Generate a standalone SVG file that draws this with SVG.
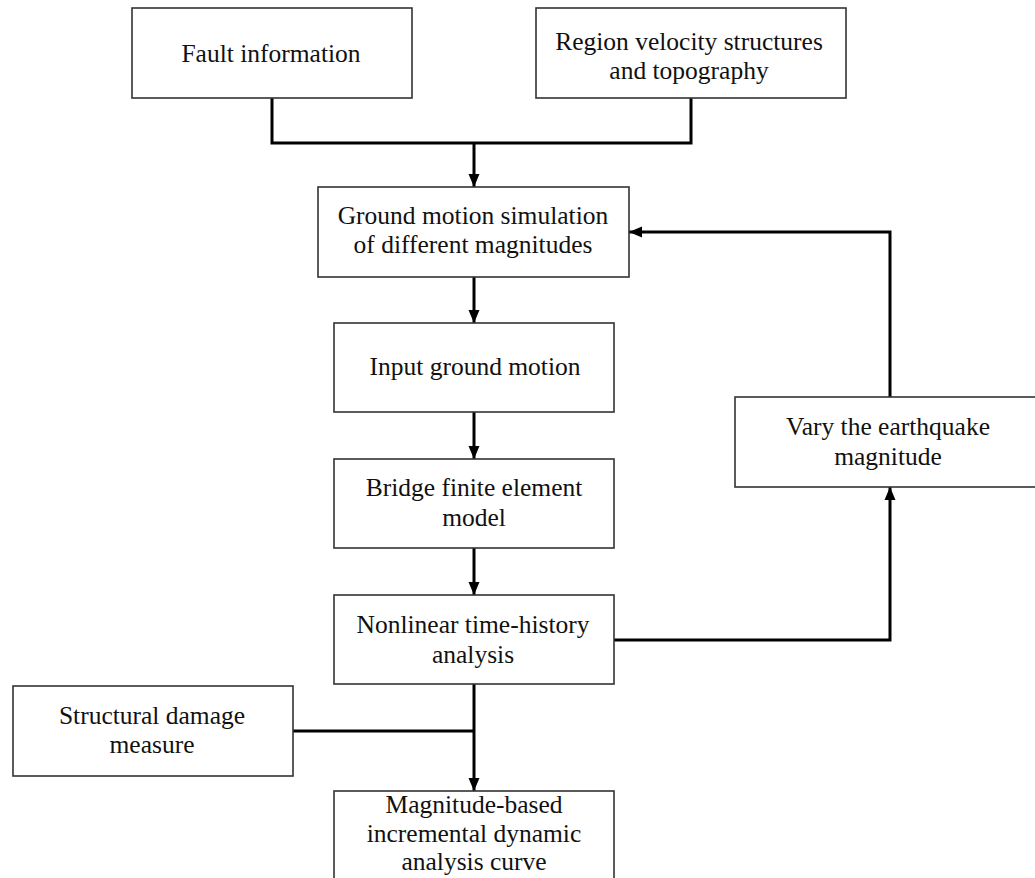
<svg xmlns="http://www.w3.org/2000/svg" width="1035" height="878" viewBox="0 0 1035 878">
<style>
.box{fill:#fff;stroke:#333;stroke-width:1.6}
.t{font-family:"Liberation Serif","Times New Roman",serif;font-size:25.5px;fill:#111;text-anchor:middle}
.c{fill:none;stroke:#000;stroke-width:3}
</style>
<defs>
<marker id="arr" markerUnits="userSpaceOnUse" markerWidth="14" markerHeight="14" viewBox="0 0 14 14" refX="13" refY="7" orient="auto">
<path d="M0,1.5 L13,7 L0,12.5 Z" fill="#000"/>
</marker>
</defs>
<rect width="1035" height="878" fill="#fff"/>
<g id="connectors">
<path class="c" d="M272,98 V143 H691 V98"/>
<path class="c" d="M474,143 V187" marker-end="url(#arr)"/>
<path class="c" d="M474,277 V323" marker-end="url(#arr)"/>
<path class="c" d="M474,412 V459" marker-end="url(#arr)"/>
<path class="c" d="M474,548 V595" marker-end="url(#arr)"/>
<path class="c" d="M474,684 V791" marker-end="url(#arr)"/>
<path class="c" d="M293,731 H474"/>
<path class="c" d="M614,640 H890 V487" marker-end="url(#arr)"/>
<path class="c" d="M890,397 V232 H629" marker-end="url(#arr)"/>
</g>
<g id="fault">
<rect class="box" x="132" y="8" width="280" height="90"/>
<text class="t" x="271" y="62">Fault information</text>
</g>
<g id="region">
<rect class="box" x="536" y="8" width="310" height="90"/>
<text class="t" x="689" y="50">Region velocity structures</text>
<text class="t" x="689" y="79">and topography</text>
</g>
<g id="ground">
<rect class="box" x="318" y="187" width="311" height="90"/>
<text class="t" x="473" y="224">Ground motion simulation</text>
<text class="t" x="473" y="253">of different magnitudes</text>
</g>
<g id="input">
<rect class="box" x="334" y="323" width="280" height="89"/>
<text class="t" x="475" y="375">Input ground motion</text>
</g>
<g id="bridge">
<rect class="box" x="334" y="459" width="280" height="89"/>
<text class="t" x="474" y="496">Bridge finite element</text>
<text class="t" x="474" y="526">model</text>
</g>
<g id="nonlinear">
<rect class="box" x="334" y="595" width="280" height="89"/>
<text class="t" x="473" y="633">Nonlinear time-history</text>
<text class="t" x="473" y="663">analysis</text>
</g>
<g id="structural">
<rect class="box" x="13" y="686" width="280" height="90"/>
<text class="t" x="152" y="724">Structural  damage</text>
<text class="t" x="152" y="753">measure</text>
</g>
<g id="magnitude">
<rect class="box" x="334" y="791" width="280" height="95"/>
<text class="t" x="474" y="813">Magnitude-based</text>
<text class="t" x="474" y="842">incremental dynamic</text>
<text class="t" x="474" y="870">analysis curve</text>
</g>
<g id="vary">
<rect class="box" x="735" y="397" width="305" height="90"/>
<text class="t" x="888" y="435">Vary the earthquake</text>
<text class="t" x="888" y="465">magnitude</text>
</g>
</svg>
